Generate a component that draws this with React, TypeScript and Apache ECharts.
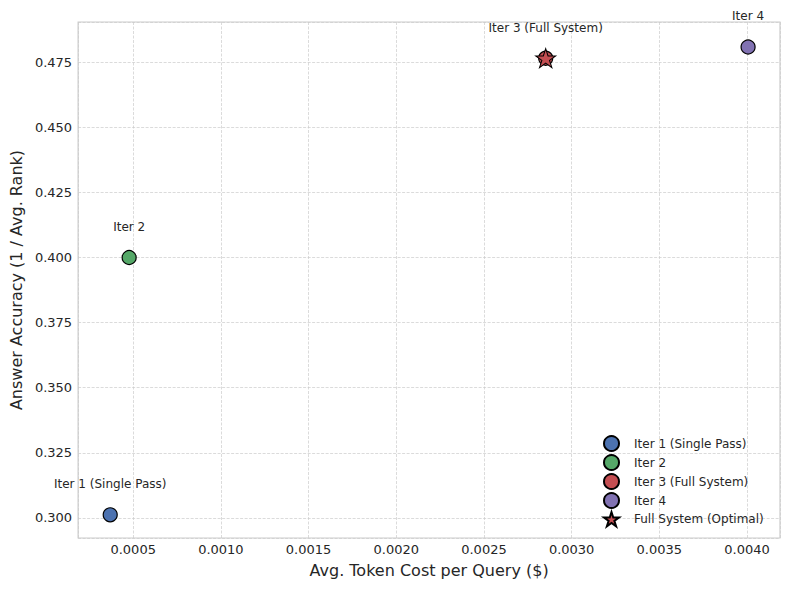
import React, { useRef, useEffect } from 'react';
import * as echarts from 'echarts';

// data
const iterNames = ['Iter 1 (Single Pass)', 'Iter 2', 'Iter 3 (Full System)', 'Iter 4'];
const tokenCost = [0.000369, 0.000477, 0.002852, 0.004006];
const accuracy = [0.3012, 0.4, 0.4765, 0.4808];
const iterColors = ['#4C72B0', '#55A868', '#C44E52', '#8172B2'];
const optimalName = 'Full System (Optimal)';
const optimalIndex = 2;

const xRange = [0.000186, 0.004188];
const yRange = [0.2923, 0.4904];

const STAR =
    'path://M100,0 L122.45,69.1 L195.1,69.1 L136.3,111.8 L158.8,180.9 L100,138.2 L41.2,180.9 L63.7,111.8 L4.9,69.1 L77.55,69.1 Z';

const textColor = '#262626';
const font = 'DejaVu Sans';

const App = () => {
    const chartRef = useRef(null);

    useEffect(() => {
        const myChart = echarts.init(chartRef.current, null, { renderer: 'svg' });

        const iterSeries = iterNames.map((name, i) => ({
            name,
            type: 'scatter',
            data: [[tokenCost[i], accuracy[i]]],
            symbol: 'circle',
            symbolSize: 14,
            itemStyle: { color: iterColors[i], borderColor: '#000', borderWidth: 1.2, opacity: 1 },
            label: {
                show: true,
                position: 'top',
                distance: 17,
                formatter: name,
                color: textColor,
                fontFamily: font,
                fontSize: 12
            },
            z: 2
        }));

        const option = {
            animation: false,
            backgroundColor: '#fff',
            textStyle: { fontFamily: font },
            grid: {
                left: 78,
                right: 10,
                top: 22,
                bottom: 52,
                show: true,
                borderColor: '#cccccc',
                borderWidth: 1.2
            },
            legend: {
                orient: 'vertical',
                left: 598,
                top: 430,
                itemWidth: 15,
                itemHeight: 15,
                itemGap: 2,
                data: [...iterNames, optimalName],
                textStyle: {
                    color: textColor,
                    fontFamily: font,
                    fontSize: 12,
                    lineHeight: 14,
                    padding: [0, 0, 0, 10]
                }
            },
            xAxis: {
                type: 'value',
                min: xRange[0],
                max: xRange[1],
                minInterval: 0.0005,
                maxInterval: 0.0005,
                name: 'Avg. Token Cost per Query ($)',
                nameLocation: 'middle',
                nameGap: 24,
                nameTextStyle: { color: textColor, fontFamily: font, fontSize: 16 },
                axisLine: { show: false },
                axisTick: { show: false },
                axisLabel: {
                    color: textColor,
                    fontFamily: font,
                    fontSize: 13,
                    margin: 5,
                    showMinLabel: false,
                    showMaxLabel: false,
                    formatter: (v: number) => v.toFixed(4)
                },
                splitLine: { lineStyle: { color: '#cccccc', width: 0.7, type: [3, 1.5] } }
            },
            yAxis: {
                type: 'value',
                min: yRange[0],
                max: yRange[1],
                minInterval: 0.025,
                maxInterval: 0.025,
                name: 'Answer Accuracy (1 / Avg. Rank)',
                nameLocation: 'middle',
                nameGap: 52,
                nameTextStyle: { color: textColor, fontFamily: font, fontSize: 16 },
                axisLine: { show: false },
                axisTick: { show: false },
                axisLabel: {
                    color: textColor,
                    fontFamily: font,
                    fontSize: 13,
                    margin: 6,
                    showMinLabel: false,
                    showMaxLabel: false,
                    formatter: (v: number) => v.toFixed(3)
                },
                splitLine: { lineStyle: { color: '#cccccc', width: 0.7, type: [3, 1.5] } }
            },
            series: [
                ...iterSeries,
                {
                    name: optimalName,
                    type: 'scatter',
                    data: [[tokenCost[optimalIndex], accuracy[optimalIndex]]],
                    symbol: STAR,
                    symbolSize: [20, 19],
                    itemStyle: { color: '#C44E52', borderColor: '#000', borderWidth: 1, opacity: 1 },
                    z: 3
                }
            ]
        };

        myChart.setOption(option);

        return () => {
            myChart.dispose();
        };
    }, []);

    return <div ref={chartRef} style={{ width: '790px', height: '590px', margin: '-8px' }} />;
};

export default App;
